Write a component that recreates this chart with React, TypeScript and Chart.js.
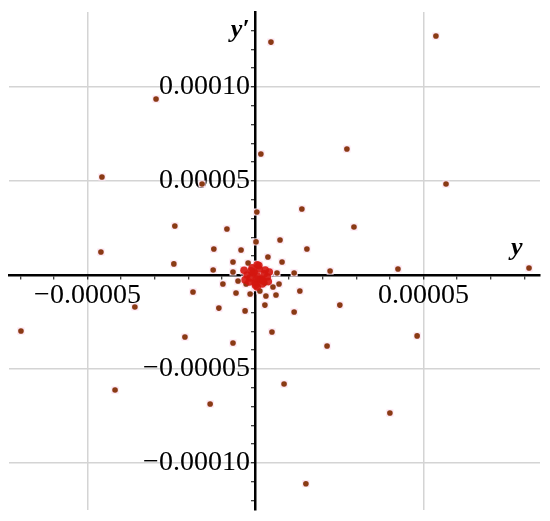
import { useEffect, useRef } from 'react';
import { Chart, registerables } from 'chart.js';

Chart.register(...registerables);

// Outer scattered points (y, y')
const outerY = [
  4.6e-6, 5.37e-5, -2.96e-5, 1.6e-6, 2.72e-5, -4.57e-5, 5.67e-5, -1.59e-5, 4e-7, -2.4e-5,
  -8.5e-6, 1.38e-5, 2.93e-5, 7.3e-6, 1.53e-5, -4.6e-5, -1.24e-5, -4.3e-6, 8.14e-5, 4.24e-5,
  2.22e-5, -2.43e-5, -6.98e-5, -3.59e-5, -1.86e-5, -2.1e-5, -1.09e-5, -6.7e-6, -3.1e-6, 2.8e-6,
  4.9e-6, -4.18e-5, -1.35e-5, 8.5e-6, 2.13e-5, 2.51e-5, 4.81e-5, 4.0e-5, 1.5e-5, 1.15e-5,
  1.32e-5, 7.0e-6, 1.15e-5, 6.1e-6, 1.5e-7, -6.7e-6, 3.7e-6, 7.9e-6, -1.26e-5, -6.7e-6,
  -2.2e-6, 6.4e-6, -9.7e-6, -5.2e-6, -2.8e-6, 1.3e-6, -5.8e-6, -1.6e-6, 3.1e-6, 2.8e-6,
  5.2e-6,
];
const outerYPrime = [
  1.239e-4, 1.271e-4, 9.36e-5, 6.44e-5, 6.7e-5, 5.21e-5, 4.84e-5, 4.84e-5, 3.35e-5, 2.61e-5,
  2.45e-5, 3.51e-5, 2.55e-5, 1.86e-5, 1.38e-5, 1.22e-5, 1.38e-5, 1.33e-5, 3.7e-6, 3.2e-6,
  2.1e-6, 5.9e-6, -2.98e-5, -1.7e-5, -9.0e-6, -3.3e-5, -1.76e-5, -3.62e-5, -1.91e-5, -1.6e-5,
  -3.03e-5, -6.12e-5, -6.86e-5, -5.8e-5, -3.78e-5, -1.6e-5, -3.24e-5, -7.34e-5, -1.11e-4, -1.97e-5,
  -8.5e-6, -4.8e-6, 1.1e-6, -1.06e-5, 1.76e-5, 6.9e-6, 9.6e-6, 6.9e-6, 2.7e-6, 1.6e-6,
  6.4e-6, 1.1e-6, -4.8e-6, -3.2e-6, -4.8e-6, -8.5e-6, -9.6e-6, -1.01e-5, -1.12e-5, -4.3e-6,
  -6.4e-6,
];

// Dense core of points near the origin
const coreY = [
  5e-7, -7e-7, 1.7e-6, -1.6e-6, 2.6e-6, 1.1e-6, -1e-7, -2.5e-6, 3.5e-6, -1.0e-6, 2.0e-6,
  -1.9e-6, 2.9e-6, 5e-7, 5e-7, -3.1e-6, 4.1e-6, 1.4e-6, -4e-7, 2.3e-6, -1.3e-6, 2e-7,
  -3.4e-6, 3.8e-6, 0, 1.0e-6,
];
const coreYPrime = [
  -5e-7, 1.1e-6, -2.1e-6, -1.6e-6, 6e-7, 3.2e-6, -4.2e-6, 0, -1.0e-6, 3.8e-6, -4.8e-6,
  -3.7e-6, 2.7e-6, 5.4e-6, -6.4e-6, -2.6e-6, 1.6e-6, -2.6e-6, 1.6e-6, -3.2e-6, 2.2e-6, -2.1e-6,
  2.5e-6, -3.5e-6, -5.5e-6, 5.0e-6,
];

// Labelled tick values and their texts
const xLabelValues = [-0.00005, 0.00005];
const xLabelTexts = ['\u22120.00005', '0.00005'];
const yLabelValues = [-0.0001, -0.00005, 0.00005, 0.0001];
const yLabelTexts = ['\u22120.00010\u2009', '\u22120.00005\u2009', '0.00005\u2009', '0.00010\u2009'];
const gridValues = [-0.0001, -0.00005, 0.00005, 0.0001];

const X_MIN = -7.336e-5;
const X_MAX = 8.467e-5;
const Y_MIN = -1.25e-4;
const Y_MAX = 1.399e-4;

const SERIF = "'Liberation Serif', 'Times New Roman', 'DejaVu Serif', serif";

function near(a: number, b: number) {
  return Math.abs(a - b) < 1e-9;
}

function labelFor(v: number, vals: number[], texts: string[]) {
  for (let i = 0; i < vals.length; i++) if (near(v, vals[i])) return texts[i];
  return '';
}

function pts(xs: number[], ys: number[]) {
  return xs.map((v, i) => ({ x: v, y: ys[i] }));
}

const axisTitles = {
  id: 'axisTitles',
  afterDraw(chart: any) {
    const { ctx, chartArea, scales } = chart;
    const x0 = scales.x.getPixelForValue(0);
    const y0 = scales.y.getPixelForValue(0);
    ctx.save();
    ctx.fillStyle = '#000';
    ctx.font = `italic bold 26px ${SERIF}`;
    ctx.textBaseline = 'alphabetic';
    ctx.textAlign = 'right';
    ctx.fillText('y\u2032', x0 - 6, chartArea.top + 25);
    ctx.textAlign = 'left';
    ctx.fillText('y', chartArea.right - 29, y0 - 20);
    ctx.restore();
  },
};

export default function App() {
  const ref = useRef<HTMLCanvasElement | null>(null);

  useEffect(() => {
    document.body.style.margin = '0';
    const canvas = ref.current;
    if (!canvas) return;

    const gridColor = (ctx: any) => {
      const v = ctx.tick ? ctx.tick.value : 0;
      return gridValues.some((g) => near(g, v)) ? '#d4d4d4' : 'rgba(0,0,0,0)';
    };
    const tickColor = (ctx: any) => {
      const v = ctx.tick ? ctx.tick.value : 0;
      return near(v, 0) ? 'rgba(0,0,0,0)' : '#000';
    };

    // Chart.js paints the last dataset first, so the dots come first and halos last.
    const chart = new Chart(canvas, {
      type: 'scatter',
      data: {
        datasets: [
          {
            data: pts(coreY, coreYPrime),
            pointStyle: 'circle',
            pointRadius: 3.8,
            backgroundColor: 'rgba(212,22,16,0.9)',
            borderColor: 'rgba(212,22,16,0.9)',
            borderWidth: 0,
          },
          {
            data: pts(outerY, outerYPrime),
            pointStyle: 'circle',
            pointRadius: 2.8,
            backgroundColor: '#8a3a14',
            borderColor: '#8a3a14',
            borderWidth: 0,
          },
          {
            data: pts(coreY, coreYPrime),
            pointStyle: 'rect',
            pointRadius: 6,
            backgroundColor: '#fbdcea',
            borderWidth: 0,
          },
          {
            data: pts(outerY, outerYPrime),
            pointStyle: 'rect',
            pointRadius: 5,
            backgroundColor: '#fbe0ee',
            borderWidth: 0,
          },
        ],
      },
      options: {
        animation: false,
        responsive: false,
        events: [],
        layout: { autoPadding: false, padding: { left: 9, right: 10, top: 12, bottom: 11 } } as any,
        plugins: {
          legend: { display: false },
          tooltip: { enabled: false },
        },
        scales: {
          x: {
            type: 'linear',
            position: { y: 0 } as any,
            min: X_MIN,
            max: X_MAX,
            afterFit: (s: any) => {
              s.height = 0;
              s.paddingLeft = 0;
              s.paddingRight = 0;
            },
            grid: {
              color: gridColor,
              lineWidth: 1.5,
              tickColor: tickColor,
              tickLength: 3,
              tickWidth: 1,
            },
            border: { color: '#000', width: 2.5 },
            ticks: {
              stepSize: 0.00001,
              includeBounds: false,
              autoSkip: false,
              maxRotation: 0,
              maxTicksLimit: 100,
              padding: 1,
              color: '#000',
              font: { family: SERIF, size: 28 },
              callback: (v: any) => labelFor(Number(v), xLabelValues, xLabelTexts),
            },
          },
          y: {
            type: 'linear',
            position: { x: 0 } as any,
            min: Y_MIN,
            max: Y_MAX,
            afterFit: (s: any) => {
              s.width = 0;
              s.paddingTop = 0;
              s.paddingBottom = 0;
            },
            grid: {
              color: gridColor,
              lineWidth: 1.5,
              tickColor: tickColor,
              tickLength: 3,
              tickWidth: 1,
            },
            border: { color: '#000', width: 2.5 },
            ticks: {
              stepSize: 0.00001,
              includeBounds: false,
              autoSkip: false,
              maxTicksLimit: 100,
              padding: 4,
              color: '#000',
              font: { family: SERIF, size: 28 },
              callback: (v: any) => labelFor(Number(v), yLabelValues, yLabelTexts),
            },
          },
        },
      },
      plugins: [axisTitles],
    });

    return () => chart.destroy();
  }, []);

  return (
    <div style={{ width: 550, height: 521, background: '#fff' }}>
      <canvas ref={ref} width={550} height={521} style={{ display: 'block' }} />
    </div>
  );
}
